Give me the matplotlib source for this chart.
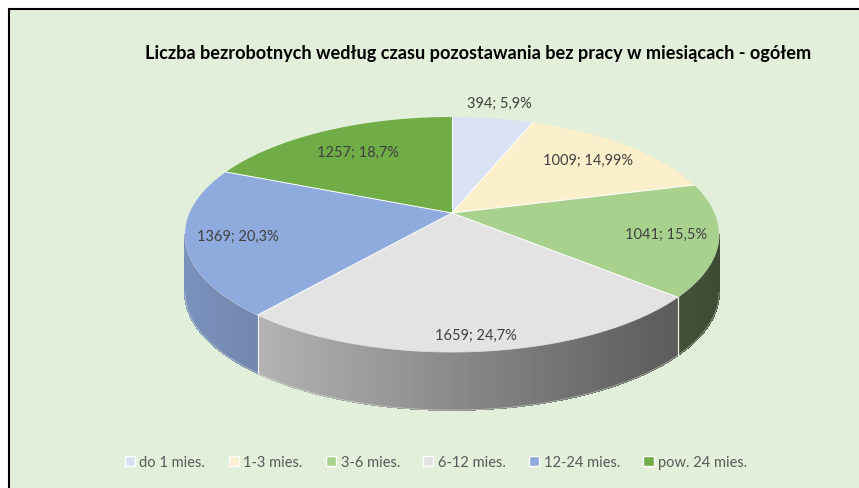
import numpy as np
import matplotlib
matplotlib.use("Agg")
import matplotlib.pyplot as plt
from matplotlib.patches import Polygon, Rectangle, Patch
from matplotlib.collections import PolyCollection
from matplotlib.colors import to_rgb

# ---------------- data ----------------
categories = ["do 1 mies.", "1-3 mies.", "3-6 mies.", "6-12 mies.", "12-24 mies.", "pow. 24 mies."]
values = [394, 1009, 1041, 1659, 1369, 1257]
pct_labels = ["5,9%", "14,99%", "15,5%", "24,7%", "20,3%", "18,7%"]
colors = ["#DAE3F3", "#FBF0CB", "#A9D18E", "#E3E3E3", "#8FAADC", "#70AD47"]
title = "Liczba bezrobotnych według czasu pozostawania bez pracy w miesiącach - ogółem"

# ---------------- layout ----------------
W, H = 859, 489
cx, cy = 452, 214          # pie apex (pixels)
A, B, K = 262.5, 113.6, 0.183   # perspective ellipse parameters
depth = 58                 # thickness in pixels
label_r = [1.2, 0.76, 0.81, 0.9, 0.81, 0.72]
FONT = "Lato"

def proj(r, theta_deg, dz=0.0):
    t = np.radians(theta_deg)
    u = r * np.cos(t)
    v = r * np.sin(t)
    w = 1 + K * v
    return cx + A * u / w, cy - B * v / w + dz

fig = plt.figure(figsize=(W / 100, H / 100), dpi=100, facecolor="white")
ax = fig.add_axes([0, 0, 1, 1])
ax.set_xlim(0, W)
ax.set_ylim(H, 0)
ax.axis("off")

ax.add_patch(Rectangle((9, 10), W + 20, H + 20, facecolor="#E2EFDA",
                       edgecolor="black", lw=1.5, zorder=0))

total = float(sum(values))
cum = np.concatenate([[0], np.cumsum(values)]) / total
starts = 90 - 360 * cum[:-1]
ends = 90 - 360 * cum[1:]

alpha = np.degrees(np.arcsin(K))
thL, thR = 180 + alpha - 360, 360 - alpha - 360   # visible side range
xL = cx - A / np.sqrt(1 - K ** 2)
xR = cx + A / np.sqrt(1 - K ** 2)

def shade(x):
    return 0.86 + (0.36 - 0.86) * (x - xL) / (xR - xL)

# ---- sides ----
polys, fcols = [], []
for i in range(len(values)):
    a0 = max(ends[i], thL)
    a1 = min(starts[i], thR)
    if a1 <= a0:
        continue
    n = max(2, int((a1 - a0) / 0.5))
    ts = np.linspace(a0, a1, n + 1)
    base = np.array(to_rgb(colors[i]))
    for ta, tb in zip(ts[:-1], ts[1:]):
        xa, ya = proj(1, ta)
        xb, yb = proj(1, tb)
        polys.append([(xa, ya), (xb, yb), (xb, yb + depth), (xa, ya + depth)])
        f = shade((xa + xb) / 2)
        fcols.append(np.clip(base * f, 0, 1))
pc = PolyCollection(polys, facecolors=fcols, edgecolors=fcols, linewidths=0.6,
                    antialiaseds=False, zorder=2)
ax.add_collection(pc)

# smooth outline of the side (antialiased edges)
ts = np.linspace(thL, thR, 300)
bx, by = proj(1, ts, depth)
ax.plot(bx, by, color="#E2EFDA", lw=0.5, alpha=0.6, zorder=2.4)

# boundaries on the side
for b in list(starts) + list(ends):
    bb = ((b + 270) % 360) - 270
    if thL < bb < thR:
        x0, y0 = proj(1, bb)
        ax.plot([x0, x0], [y0, y0 + depth], color="#F2F2F2", lw=0.8, zorder=2.5)

# light rim at top of front side
rx, ry = proj(1, ts)
ax.plot(rx, ry, color="#EEEEEE", lw=0.6, alpha=0.8, zorder=2.6)

# ---- top ----
for i in range(len(values)):
    ts_i = np.linspace(starts[i], ends[i], max(3, int(abs(starts[i] - ends[i])) + 2))
    xs, ys = proj(1, ts_i)
    pts = [(cx, cy)] + list(zip(xs, ys))
    ax.add_patch(Polygon(pts, closed=True, facecolor=colors[i], edgecolor="none", zorder=3))
for b in starts:
    x1, y1 = proj(1, b)
    ax.plot([cx, x1], [cy, y1], color="white", lw=0.7, zorder=4)

# ---- labels ----
for i in range(len(values)):
    mid = (starts[i] + ends[i]) / 2
    lx, ly = proj(label_r[i], mid)
    ax.text(lx, ly, f"{values[i]}; {pct_labels[i]}", ha="center", va="center",
            color="#404040", fontsize=10.5, family=FONT, zorder=5)

ax.text(478, 53, title, ha="center", va="center", fontsize=13.1,
        fontweight="bold", family=FONT, color="black", zorder=5)

handles = [Patch(facecolor=c, edgecolor="white", lw=1.0) for c in colors]
leg = fig.legend(handles, categories, loc="center", bbox_to_anchor=(436 / W, 1 - 463 / H),
                 ncol=6, frameon=False, handlelength=0.7, handleheight=0.7,
                 handletextpad=0.3, columnspacing=1.6,
                 prop={"family": FONT, "size": 10.5})
for t in leg.get_texts():
    t.set_color("#595959")

fig.savefig("out.png", dpi=100, facecolor="white")
